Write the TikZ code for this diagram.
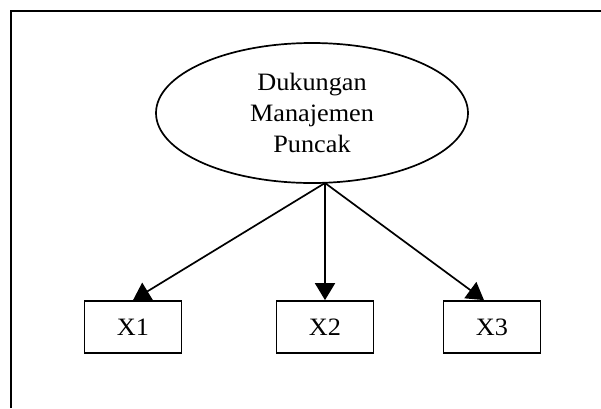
\documentclass[tikz,border=0pt]{standalone}
\usepackage{fontspec}
\setmainfont{Liberation Serif}[FakeStretch=1.05]
\usetikzlibrary{shapes.geometric,arrows.meta}
\begin{document}
\begin{tikzpicture}[x=1pt,y=-1pt,
  lbl/.style={font=\fontsize{25}{31}\selectfont},
  bubble/.style={ellipse,draw,line width=1.7pt,minimum width=312pt,minimum height=140pt,inner sep=0pt,align=center,lbl},
  varbox/.style={rectangle,draw,line width=1.7pt,minimum width=97pt,minimum height=52pt,inner sep=0pt,lbl},
  link/.style={line width=1.7pt,-{Triangle[length=17pt,width=20pt]}},
  frame/.style={line width=2.5pt}]
\useasboundingbox (0,0) rectangle (601,408);
\draw[frame] (11,408) -- (11,11) -- (601,11);
\node[bubble] (top) at (312,113) {Dukungan\\Manajemen\\Puncak};
\coordinate (apex) at (325,183);
\node[varbox] (x1) at (133,327) {X1};
\node[varbox] (x2) at (325,327) {X2};
\node[varbox] (x3) at (492,327) {X3};
\draw[link] (apex) -- (x1.north);
\draw[link] (apex) -- (x2.north);
\draw[link] (apex) -- ([xshift=-8pt]x3.north);
\end{tikzpicture}
\end{document}
